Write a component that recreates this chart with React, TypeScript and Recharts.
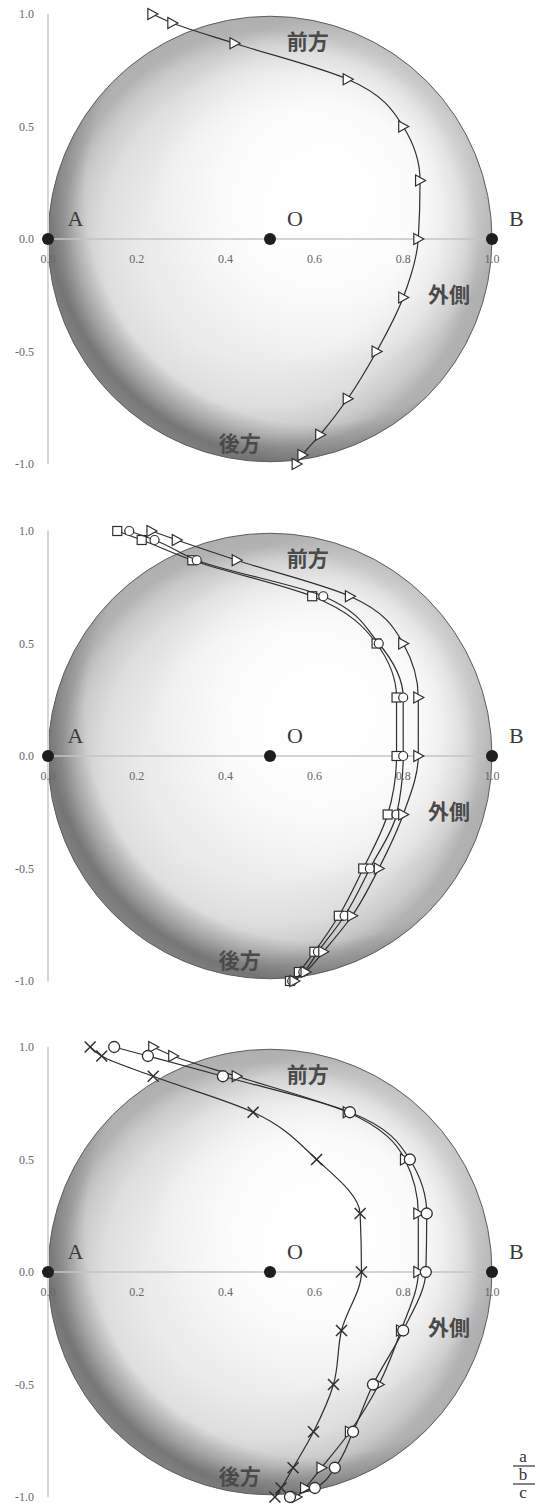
import React from 'react';
import {
  ScatterChart,
  Scatter,
  XAxis,
  YAxis,
  ReferenceLine,
  ReferenceArea,
  ReferenceDot,
} from 'recharts';

// Measurement levels (front = 1.0, back = -1.0)
const yLevels = [1.0, 0.96, 0.87, 0.71, 0.5, 0.26, 0.0, -0.26, -0.5, -0.71, -0.87, -0.96, -1.0];

// Panel a
const aTriangle = [0.235, 0.28, 0.42, 0.675, 0.8, 0.838, 0.834, 0.8, 0.74, 0.675, 0.613, 0.573, 0.56];

// Panel b
const bSquare = [0.156, 0.211, 0.325, 0.595, 0.74, 0.785, 0.785, 0.765, 0.71, 0.655, 0.6, 0.565, 0.545];
const bCircle = [0.183, 0.24, 0.335, 0.62, 0.745, 0.8, 0.8, 0.785, 0.725, 0.668, 0.608, 0.575, 0.55];
const bTriangle = [0.233, 0.29, 0.425, 0.68, 0.8, 0.834, 0.834, 0.8, 0.745, 0.685, 0.62, 0.58, 0.555];

// Panel c
const cCross = [0.095, 0.121, 0.237, 0.462, 0.605, 0.703, 0.706, 0.661, 0.643, 0.598, 0.552, 0.525, 0.511];
const cTriangle = [0.237, 0.282, 0.425, 0.675, 0.804, 0.834, 0.834, 0.795, 0.745, 0.68, 0.616, 0.579, 0.56];
const cCircle = [0.149, 0.225, 0.394, 0.68, 0.815, 0.853, 0.851, 0.8, 0.732, 0.687, 0.646, 0.601, 0.545];

const xTicks = [0, 0.2, 0.4, 0.6, 0.8, 1.0];
const yTicks = [1.0, 0.5, 0.0, -0.5, -1.0];
const keyPoints = [
  { x: 0, y: 0 },
  { x: 0.5, y: 0 },
  { x: 1, y: 0 },
];
const pointLabels = [
  { text: 'A', x: 0.062, y: 0.09 },
  { text: 'O', x: 0.556, y: 0.09 },
  { text: 'B', x: 1.055, y: 0.09 },
];
const regionLabels = [
  { text: '前方', x: 0.585, y: 0.885 },
  { text: '外側', x: 0.903, y: -0.24 },
  { text: '後方', x: 0.432, y: -0.9 },
];
const legendLetters = ['a', 'b', 'c'];

const toPoints = (xs: number[]) => xs.map((x, i) => ({ x, y: yLevels[i] }));

const STROKE = '#2e2e2e';

const TriangleMarker = (p: any) => {
  const { cx, cy } = p;
  return (
    <path
      d={`M${cx - 4.5},${cy - 5.5}L${cx + 5.5},${cy}L${cx - 4.5},${cy + 5.5}Z`}
      fill="#fff"
      stroke={STROKE}
      strokeWidth={1.2}
    />
  );
};
const SquareMarker = (p: any) => {
  const { cx, cy } = p;
  return <rect x={cx - 4.5} y={cy - 4.5} width={9} height={9} fill="#fff" stroke={STROKE} strokeWidth={1.2} />;
};
const CircleMarker = (p: any) => {
  const { cx, cy } = p;
  return <circle cx={cx} cy={cy} r={4.5} fill="#fff" stroke={STROKE} strokeWidth={1.2} />;
};
const BigCircleMarker = (p: any) => {
  const { cx, cy } = p;
  return <circle cx={cx} cy={cy} r={5.5} fill="#fff" stroke={STROKE} strokeWidth={1.3} />;
};
const CrossMarker = (p: any) => {
  const { cx, cy } = p;
  return (
    <g stroke={STROKE} strokeWidth={1.5}>
      <line x1={cx - 5.5} y1={cy - 5.5} x2={cx + 5.5} y2={cy + 5.5} />
      <line x1={cx - 5.5} y1={cy + 5.5} x2={cx + 5.5} y2={cy - 5.5} />
    </g>
  );
};
const KeyDot = (p: any) => {
  const { cx, cy } = p;
  return <circle cx={cx} cy={cy} r={6} fill="#1e1e1e" />;
};

const markers: Record<string, any> = {
  triangle: TriangleMarker,
  square: SquareMarker,
  circle: CircleMarker,
  bigCircle: BigCircleMarker,
  cross: CrossMarker,
};

const Sphere = (props: any) => {
  const { x, y, width, height, gid } = props;
  const cx = x + width / 2;
  const cy = y + height / 2;
  const rx = width / 2;
  const ry = height / 2;
  return (
    <g>
      <defs>
        <radialGradient id={`${gid}-base`} cx="0.5" cy="0.5" r="0.5">
          <stop offset="0" stopColor="#f3f3f3" />
          <stop offset="0.55" stopColor="#ececec" />
          <stop offset="0.75" stopColor="#dedede" />
          <stop offset="0.87" stopColor="#c9c9c9" />
          <stop offset="0.94" stopColor="#b2b2b2" />
          <stop offset="1" stopColor="#afafaf" />
        </radialGradient>
        <radialGradient id={`${gid}-hi`} cx="0.63" cy="0.4" r="0.4">
          <stop offset="0" stopColor="#ffffff" stopOpacity="1" />
          <stop offset="0.5" stopColor="#ffffff" stopOpacity="0.85" />
          <stop offset="1" stopColor="#ffffff" stopOpacity="0" />
        </radialGradient>
        <radialGradient id={`${gid}-shade`} cx="0.6" cy="0.4" r="0.66">
          <stop offset="0" stopColor="#000" stopOpacity="0" />
          <stop offset="0.78" stopColor="#000" stopOpacity="0" />
          <stop offset="0.92" stopColor="#000" stopOpacity="0.34" />
          <stop offset="1" stopColor="#000" stopOpacity="0.2" />
        </radialGradient>
      </defs>
      <ellipse cx={cx} cy={cy} rx={rx} ry={ry} fill={`url(#${gid}-base)`} />
      <ellipse cx={cx} cy={cy} rx={rx} ry={ry} fill={`url(#${gid}-hi)`} />
      <ellipse cx={cx} cy={cy} rx={rx} ry={ry} fill={`url(#${gid}-shade)`} />
      <ellipse cx={cx} cy={cy} rx={rx} ry={ry} fill="none" stroke="#5e5e5e" strokeWidth={1} />
    </g>
  );
};

type SeriesDef = { xs: number[]; marker: string };
type PanelDef = { id: string; top: number; height: number; series: SeriesDef[] };

const panels: PanelDef[] = [
  { id: 'a', top: 0, height: 517, series: [{ xs: aTriangle, marker: 'triangle' }] },
  {
    id: 'b',
    top: 517,
    height: 516,
    series: [
      { xs: bSquare, marker: 'square' },
      { xs: bCircle, marker: 'circle' },
      { xs: bTriangle, marker: 'triangle' },
    ],
  },
  {
    id: 'c',
    top: 1033,
    height: 473,
    series: [
      { xs: cCross, marker: 'cross' },
      { xs: cTriangle, marker: 'triangle' },
      { xs: cCircle, marker: 'bigCircle' },
    ],
  },
];

const PLOT_TOP = 14;
const PLOT_H = 450;
const SERIF = '"Liberation Serif", "DejaVu Serif", serif';
const CJK = '"Noto Sans CJK JP", "Noto Sans CJK SC", sans-serif';

function Panel({ def }: { def: PanelDef }) {
  const bottom = def.height - PLOT_TOP - PLOT_H;
  return (
    <ScatterChart
      width={535}
      height={def.height}
      margin={{ top: PLOT_TOP, right: 43, bottom, left: 0 }}
      style={{ overflow: 'visible' }}
    >
      <XAxis
        type="number"
        dataKey="x"
        domain={[0, 1]}
        ticks={xTicks}
        height={0}
        tick={false}
        axisLine={false}
        tickLine={false}
      />
      <YAxis
        type="number"
        dataKey="y"
        domain={[-1, 1]}
        ticks={yTicks}
        width={48}
        tickSize={0}
        tickMargin={14}
        tickLine={false}
        axisLine={{ stroke: '#d6d6d6', strokeWidth: 2 }}
        tick={{ fontSize: 12, fill: '#666', fontFamily: SERIF }}
        tickFormatter={(v: number) => v.toFixed(1)}
      />
      <ReferenceArea
        x1={0}
        x2={1}
        y1={-0.99}
        y2={0.99}
        ifOverflow="visible"
        shape={(p: any) => <Sphere {...p} gid={`sph-${def.id}`} />}
      />
      <ReferenceLine y={0} stroke="#c4c4c4" strokeWidth={1.5} />
      {xTicks.map((v) => (
        <ReferenceDot
          key={`xt-${v}`}
          x={v}
          y={0}
          r={0}
          ifOverflow="visible"
          shape={(p: any) => (
            <text
              x={p.cx}
              y={p.cy + 24}
              textAnchor="middle"
              fontSize={12}
              fill="#666"
              fontFamily={SERIF}
            >
              {v.toFixed(1)}
            </text>
          )}
        />
      ))}
      {pointLabels.map((l) => (
        <ReferenceDot
          key={`pl-${l.text}`}
          x={l.x}
          y={l.y}
          r={0}
          ifOverflow="visible"
          shape={(p: any) => (
            <text
              x={p.cx}
              y={p.cy}
              textAnchor="middle"
              dominantBaseline="central"
              fontSize={22}
              fill="#3a3a3a"
              fontFamily={SERIF}
            >
              {l.text}
            </text>
          )}
        />
      ))}
      {regionLabels.map((l) => (
        <ReferenceDot
          key={`rl-${l.text}`}
          x={l.x}
          y={l.y}
          r={0}
          ifOverflow="visible"
          shape={(p: any) => (
            <text
              x={p.cx}
              y={p.cy}
              textAnchor="middle"
              dominantBaseline="central"
              fontSize={21}
              fontWeight={700}
              fill="#4a4a4a"
              fontFamily={CJK}
            >
              {l.text}
            </text>
          )}
        />
      ))}
      {def.series.map((s, i) => (
        <Scatter
          key={`s-${i}`}
          data={toPoints(s.xs)}
          line={{ stroke: STROKE, strokeWidth: 1.2 }}
          lineJointType="monotoneY"
          shape={markers[s.marker]}
          isAnimationActive={false}
        />
      ))}
      <Scatter data={keyPoints} shape={KeyDot} isAnimationActive={false} />
    </ScatterChart>
  );
}

export default function App() {
  return (
    <div
      style={{
        position: 'absolute',
        left: 0,
        top: 0,
        width: 535,
        height: 1506,
        background: '#fff',
        overflow: 'hidden',
      }}
    >
      {panels.map((p) => (
        <div key={p.id} style={{ position: 'absolute', left: 0, top: p.top, width: 535, height: p.height }}>
          <Panel def={p} />
        </div>
      ))}
      <svg
        width={30}
        height={62}
        style={{ position: 'absolute', left: 505, top: 1442 }}
      >
        {legendLetters.map((t, i) => (
          <g key={t}>
            <text
              x={18}
              y={20 + i * 18}
              textAnchor="middle"
              fontSize={17}
              fill="#333"
              fontFamily={SERIF}
            >
              {t}
            </text>
            {i < legendLetters.length - 1 && (
              <line x1={8} x2={30} y1={24 + i * 18} y2={24 + i * 18} stroke="#333" strokeWidth={1.2} />
            )}
          </g>
        ))}
      </svg>
    </div>
  );
}
